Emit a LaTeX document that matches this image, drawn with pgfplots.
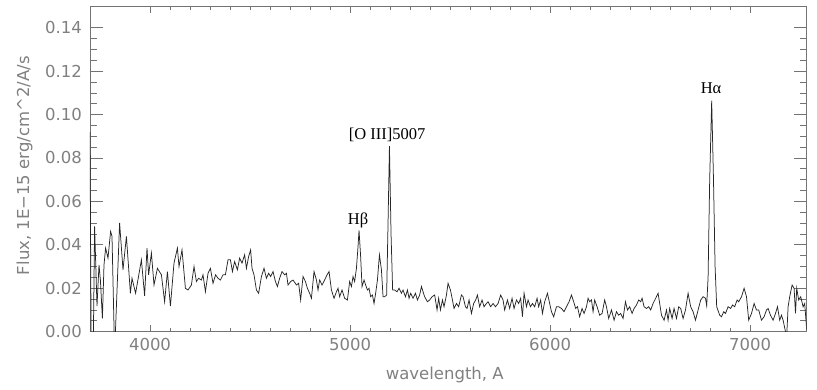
\documentclass[border=0pt]{standalone}
\usepackage{fontspec}
\setmainfont{DejaVu Sans}
\newfontfamily\tms{Liberation Serif}
\usepackage{pgfplots}
\pgfplotsset{compat=1.18}
\definecolor{axgray}{gray}{0.45}
\definecolor{txtgray}{gray}{0.5}
\pgfplotstableread{
x y
3700 0.092
3706 -0.010
3716 -0.010
3723 0.0485
3735 0.0118
3745 0.0308
3752 0.0238
3762 0.0061
3770 0.0308
3778 0.0385
3790 0.0339
3803 0.0462
3810 0.0439
3823 -0.010
3848 0.0501
3865 0.0285
3882 0.0439
3902 0.0177
3910 0.0246
3928 0.0177
3957 0.0331
3973 0.0165
3985 0.0385
3993 0.0262
4007 0.0362
4020 0.0215
4037 0.0292
4057 0.0262
4073 0.0138
4087 0.0277
4102 0.0118
4120 0.0316
4137 0.0385
4145 0.0300
4160 0.0377
4177 0.0200
4190 0.0192
4207 0.0215
4220 0.0300
4232 0.0231
4243 0.0246
4257 0.0238
4265 0.0262
4277 0.0184
4290 0.0269
4302 0.0292
4315 0.0223
4328 0.0262
4340 0.0246
4352 0.0238
4365 0.0262
4377 0.0262
4390 0.0331
4402 0.0331
4412 0.0277
4423 0.0323
4437 0.0285
4448 0.0339
4460 0.0316
4473 0.0354
4482 0.0292
4493 0.0346
4503 0.0377
4510 0.0292
4520 0.0262
4532 0.0192
4543 0.0177
4557 0.0254
4570 0.0292
4582 0.0246
4593 0.0269
4603 0.0254
4615 0.0277
4627 0.0231
4637 0.0208
4648 0.0246
4660 0.0277
4673 0.0262
4682 0.0269
4690 0.0215
4703 0.0231
4715 0.0238
4732 0.0215
4743 0.0223
4753 0.0146
4765 0.0254
4777 0.0231
4787 0.0200
4798 0.0177
4807 0.0154
4820 0.0277
4832 0.0238
4840 0.0192
4848 0.0238
4860 0.0215
4873 0.0238
4885 0.0262
4895 0.0277
4907 0.0192
4920 0.0154
4932 0.0184
4940 0.0200
4948 0.0161
4960 0.0192
4973 0.0154
4987 0.0146
4998 0.0231
5007 0.0208
5015 0.0254
5023 0.0231
5032 0.0292
5040 0.0393
5045 0.0467
5053 0.0346
5060 0.0208
5070 0.0238
5078 0.0215
5087 0.0192
5095 0.0200
5103 0.0161
5112 0.0169
5120 0.0130
5128 0.0177
5137 0.0238
5147 0.0354
5157 0.0285
5165 0.0161
5173 0.0161
5183 0.0169
5190 0.0500
5197 0.0855
5205 0.0450
5213 0.0192
5223 0.0192
5235 0.0184
5245 0.0200
5257 0.0177
5265 0.0192
5277 0.0161
5287 0.0192
5295 0.0154
5303 0.0177
5315 0.0154
5327 0.0177
5337 0.0146
5348 0.0169
5357 0.0208
5365 0.0184
5373 0.0161
5387 0.0138
5398 0.0146
5410 0.0161
5423 0.0169
5435 0.0100
5443 0.0154
5452 0.0100
5462 0.0146
5470 0.0115
5482 0.0169
5490 0.0223
5502 0.0192
5512 0.0146
5520 0.0107
5532 0.0130
5543 0.0115
5557 0.0169
5565 0.0161
5577 0.0115
5585 0.0107
5595 0.0146
5607 0.0084
5618 0.0130
5628 0.0146
5637 0.0169
5648 0.0115
5660 0.0146
5670 0.0115
5682 0.0130
5690 0.0138
5703 0.0115
5715 0.0130
5727 0.0115
5740 0.0130
5753 0.0169
5765 0.0146
5773 0.0100
5787 0.0146
5798 0.0107
5810 0.0154
5820 0.0107
5832 0.0146
5843 0.0130
5853 0.0154
5862 0.0069
5870 0.0177
5882 0.0115
5890 0.0146
5902 0.0115
5912 0.0130
5923 0.0115
5935 0.0154
5943 0.0115
5953 0.0146
5962 0.0084
5973 0.0138
5987 0.0177
5998 0.0130
6007 0.0092
6018 0.0069
6032 0.0115
6043 0.0115
6057 0.0107
6070 0.0092
6082 0.0115
6095 0.0138
6107 0.0169
6118 0.0138
6128 0.0107
6137 0.0115
6148 0.0069
6160 0.0107
6170 0.0084
6182 0.0115
6190 0.0154
6198 0.0138
6207 0.0146
6215 0.0092
6223 0.0146
6235 0.0115
6248 0.0076
6260 0.0084
6273 0.0146
6282 0.0115
6293 0.0061
6307 0.0100
6320 0.0053
6332 0.0092
6343 0.0076
6353 0.0084
6365 0.0061
6377 0.0138
6387 0.0100
6398 0.0115
6410 0.0084
6420 0.0107
6432 0.0123
6443 0.0146
6453 0.0138
6460 0.0154
6470 0.0115
6482 0.0107
6493 0.0115
6503 0.0100
6515 0.0130
6528 0.0154
6540 0.0177
6548 0.0130
6557 0.0076
6570 0.0053
6582 0.0100
6590 0.0053
6598 0.0107
6610 0.0061
6620 0.0107
6632 0.0061
6643 0.0115
6653 0.0107
6665 0.0061
6677 0.0100
6690 0.0177
6703 0.0115
6715 0.0092
6727 0.0053
6740 0.0100
6753 0.0146
6765 0.0161
6777 0.0154
6783 0.0120
6790 0.0250
6798 0.0700
6808 0.1064
6817 0.0700
6825 0.0300
6833 0.0115
6848 0.0076
6857 0.0069
6868 0.0092
6877 0.0084
6890 0.0115
6903 0.0107
6912 0.0123
6923 0.0115
6935 0.0146
6943 0.0138
6957 0.0161
6970 0.0200
6982 0.0161
6993 0.0053
7007 0.0084
7020 0.0130
7032 0.0100
7043 0.0100
7057 0.0053
7070 0.0069
7082 0.0100
7090 0.0107
7102 0.0076
7115 0.0053
7127 0.0084
7137 0.0115
7148 0.0053
7157 0.0076
7165 0.0053
7177 0.0000
7183 -0.0020
7190 0.0115
7198 0.0161
7210 0.0215
7220 0.0200
7227 0.0084
7233 0.0200
7243 0.0146
7253 0.0161
7265 0.0115
7273 0.0130
7283 0.0007
}\spectrum
\begin{document}
\begin{tikzpicture}
\begin{axis}[
  scale only axis, width=716.7bp, height=325.7bp,
  xmin=3700, xmax=7283, ymin=0, ymax=0.15,
  axis line style={axgray, line width=0.8bp},
  xtick={4000,5000,6000,7000},
  ytick={0,0.02,0.04,0.06,0.08,0.10,0.12,0.14},
  minor x tick num=9, minor y tick num=3,
  tick align=inside,
  major tick length=13bp, minor tick length=7bp,
  tick style={axgray, line width=0.7bp},
  xtick style={/pgfplots/major tick length=7bp,/pgfplots/minor tick length=4bp},
  scaled ticks=false,
  /pgf/number format/assume math mode=true,
  ticklabel style={font=\fontsize{16.5bp}{19bp}\selectfont, text=txtgray},
  xticklabel style={/pgf/number format/set thousands separator={}, inner sep=0pt, yshift=-6.3bp},
  yticklabel style={/pgf/number format/fixed, /pgf/number format/fixed zerofill, /pgf/number format/precision=2, inner sep=0pt, xshift=-8bp},
  xlabel={wavelength, A},
  ylabel={Flux, 1E\textminus15 erg/cm\textasciicircum2/A/s},
  label style={font=\fontsize{16.5bp}{19bp}\selectfont, text=txtgray, inner sep=0pt},
  xlabel style={at={(axis description cs:0.495,-0.148)}, anchor=base},
  ylabel style={at={(axis description cs:-0.0851,0.51)}, anchor=base},
]
\addplot[black!85, line width=0.75bp] table {\spectrum};
\node[anchor=base, font=\tms\fontsize{16.5bp}{19bp}\selectfont] at (axis cs:6805,0.1095) {Hα};
\node[anchor=base, font=\tms\fontsize{16.5bp}{19bp}\selectfont] at (axis cs:5185,0.0887) {[O III]5007};
\node[anchor=base, font=\tms\fontsize{16.5bp}{19bp}\selectfont] at (axis cs:5040,0.0493) {Hβ};
\end{axis}
\pgfresetboundingbox
\useasboundingbox ([shift={(-90bp,-58.3bp)}]current axis.south west) rectangle ([shift={(10.3bp,6bp)}]current axis.north east);
\end{tikzpicture}
\end{document}
